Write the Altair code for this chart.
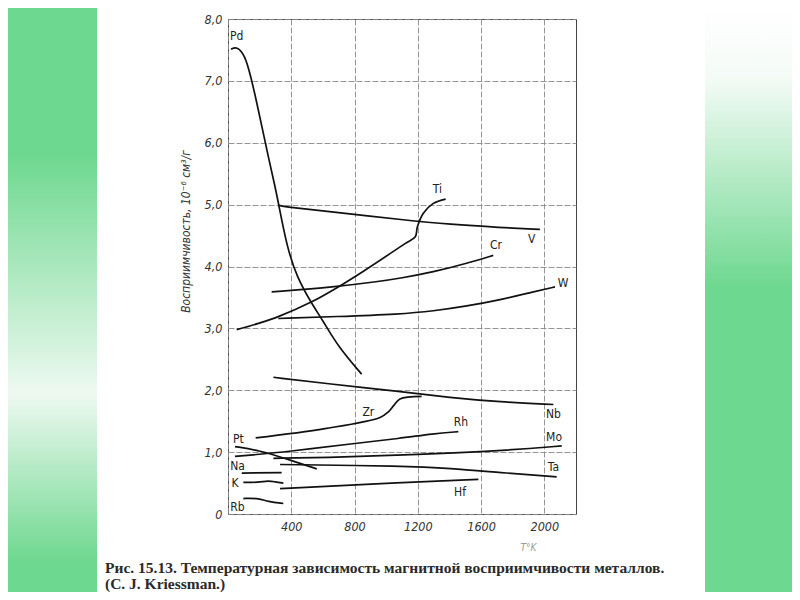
import altair as alt
import pandas as pd

# ---- data: T (K) and susceptibility (10^-6 cm^3/g) ----
pd_T = [19, 55, 107, 145, 181, 217, 255, 297, 322, 371, 434, 529, 599, 697, 845]
pd_chi = [7.51, 7.56, 7.42, 7.06, 6.66, 6.23, 5.77, 5.30, 4.98, 4.34, 3.83, 3.40, 3.13, 2.70, 2.26]
v_T = [322, 371, 676, 1119, 1403, 1720, 1972]
v_chi = [4.99, 4.96, 4.88, 4.75, 4.68, 4.63, 4.60]
ti_T = [55, 192, 318, 529, 697, 866, 1119, 1184, 1197, 1235, 1298, 1376]
ti_chi = [2.98, 3.08, 3.19, 3.43, 3.67, 3.94, 4.37, 4.48, 4.64, 4.86, 5.02, 5.09]
cr_T = [276, 676, 961, 1087, 1298, 1509, 1677]
cr_chi = [3.59, 3.67, 3.76, 3.81, 3.91, 4.05, 4.18]
w_T = [318, 687, 1087, 1298, 1509, 1720, 1930, 2067]
w_chi = [3.16, 3.19, 3.23, 3.28, 3.36, 3.46, 3.59, 3.67]
nb_T = [287, 613, 1087, 1403, 1720, 2057]
nb_chi = [2.21, 2.11, 1.98, 1.88, 1.81, 1.77]
zr_T = [175, 613, 961, 1014, 1050, 1087, 1224]
zr_chi = [1.23, 1.38, 1.56, 1.65, 1.76, 1.86, 1.90]
rh_T = [44, 392, 792, 1087, 1298, 1456]
rh_chi = [0.93, 1.01, 1.14, 1.22, 1.30, 1.33]
mo_T = [287, 613, 1087, 1720, 2110]
mo_chi = [0.90, 0.91, 0.95, 1.02, 1.10]
pt_T = [44, 192, 360, 561]
pt_chi = [1.09, 1.03, 0.90, 0.73]
ta_T = [329, 1119, 1403, 1720, 2078]
ta_chi = [0.80, 0.775, 0.74, 0.67, 0.60]
hf_T = [329, 1119, 1583]
hf_chi = [0.41, 0.51, 0.56]
na_T = [87, 339]
na_chi = [0.66, 0.67]
k_T = [97, 192, 255, 297, 350]
k_chi = [0.51, 0.51, 0.54, 0.52, 0.50]
rb_T = [97, 181, 255, 350]
rb_chi = [0.25, 0.26, 0.20, 0.17]

label_names = ["Pd", "Ti", "V", "Cr", "W", "Nb", "Zr", "Rh", "Pt", "Mo", "Ta", "Na", "K", "Hf", "Rb"]
label_T = [55, 1323, 1920, 1694, 2118, 2057, 887, 1472, 65, 2061, 2057, 60, 44, 1467, 60]
label_chi = [7.72, 5.25, 4.45, 4.35, 3.73, 1.62, 1.65, 1.49, 1.22, 1.25, 0.76, 0.78, 0.50, 0.36, 0.12]

x_ticks = [0, 200, 400, 600, 800, 1000, 1200, 1400, 1600, 1800, 2000, 2200]
y_ticks = [0, 1, 2, 3, 4, 5, 6, 7, 8]

caption_line1 = "Рис. 15.13. Температурная зависимость магнитной восприимчивости металлов."
caption_line2 = "(C. J. Kriessman.)"

# curves with a sharp bend are drawn through their points; the others are smoothed
bent = ["Ti", "Zr"]
series = {
    "Pd": (pd_T, pd_chi), "V": (v_T, v_chi), "Ti": (ti_T, ti_chi), "Cr": (cr_T, cr_chi),
    "W": (w_T, w_chi), "Nb": (nb_T, nb_chi), "Zr": (zr_T, zr_chi), "Rh": (rh_T, rh_chi),
    "Mo": (mo_T, mo_chi), "Pt": (pt_T, pt_chi), "Ta": (ta_T, ta_chi), "Hf": (hf_T, hf_chi),
    "Na": (na_T, na_chi), "K": (k_T, k_chi), "Rb": (rb_T, rb_chi),
}
rows = []
for name, (ts, cs) in series.items():
    for i, (t, c) in enumerate(zip(ts, cs)):
        rows.append({"metal": name, "T": t, "chi": c, "i": i, "bent": name in bent})
df = pd.DataFrame(rows)
labels = pd.DataFrame({"name": label_names, "T": label_T, "chi": label_chi})

GREEN = "#6dd88f"
SANS = "'DejaVu Sans Condensed', 'Liberation Sans Narrow', 'DejaVu Sans', sans-serif"
SERIF = "'Liberation Serif', 'DejaVu Serif', serif"

xs = alt.X("T:Q", scale=alt.Scale(domain=[0, 2200], nice=False, zero=False),
           axis=alt.Axis(values=x_ticks, title="T°K", grid=True, format="d",
                         labelExpr="datum.value % 400 == 0 && datum.value > 0 ? datum.label : ''",
                         titleX=300, titleY=28, titleFontSize=10, titleColor="#999",
                         titleFontWeight="normal", titleFontStyle="italic"))
ys = alt.Y("chi:Q", scale=alt.Scale(domain=[0, 8], nice=False),
           axis=alt.Axis(values=y_ticks, title="Восприимчивость, 10⁻⁶ см³/г", grid=True,
                         labelExpr="datum.value == 0 ? '0' : replace(format(datum.value, '.1f'), '.', ',')",
                         titleX=-36, titleY=212, titleFontSize=12, titleFontWeight="normal",
                         titleFontStyle="italic", titleColor="#333"))

one = alt.Data(values=[{}])

left_strip = alt.Chart(one).mark_rect(
    color=alt.Gradient(gradient="linear", x1=0, x2=0, y1=0, y2=1, stops=[
        alt.GradientStop(color=GREEN, offset=0),
        alt.GradientStop(color=GREEN, offset=0.25),
        alt.GradientStop(color="#eef9f1", offset=0.66),
        alt.GradientStop(color=GREEN, offset=0.95),
        alt.GradientStop(color=GREEN, offset=1),
    ])
).encode(x=alt.value(-220), x2=alt.value(-131), y=alt.value(-11), y2=alt.value(573))

right_strip = alt.Chart(one).mark_rect(
    color=alt.Gradient(gradient="linear", x1=0, x2=0, y1=0, y2=1, stops=[
        alt.GradientStop(color="#ffffff", offset=0),
        alt.GradientStop(color="#f4fbf6", offset=0.12),
        alt.GradientStop(color=GREEN, offset=0.48),
        alt.GradientStop(color=GREEN, offset=1),
    ])
).encode(x=alt.value(477), x2=alt.value(564), y=alt.value(-11), y2=alt.value(573))

smooth_lines = alt.Chart(df).transform_filter("!datum.bent").mark_line(
    color="#111", strokeWidth=1.7, interpolate="basis").encode(
    x=xs, y=ys, detail="metal:N", order="i:Q")
bent_lines = alt.Chart(df).transform_filter("datum.bent").mark_line(
    color="#111", strokeWidth=1.7, interpolate="catmull-rom").encode(
    x=xs, y=ys, detail="metal:N", order="i:Q")

texts = alt.Chart(labels).mark_text(font=SANS, fontSize=12, color="#222").encode(
    x=alt.X("T:Q"), y=alt.Y("chi:Q"), text="name:N")

cap1 = alt.Chart(one).mark_text(font=SERIF, fontSize=15.5, fontWeight="bold", color="#2a2a2a",
                                align="left", baseline="middle").encode(
    x=alt.value(-123), y=alt.value(549), text=alt.value(caption_line1))
cap2 = alt.Chart(one).mark_text(font=SERIF, fontSize=15.5, fontWeight="bold", color="#2a2a2a",
                                align="left", baseline="middle").encode(
    x=alt.value(-123), y=alt.value(565), text=alt.value(caption_line2))

chart = alt.layer(left_strip, right_strip, smooth_lines, bent_lines, texts, cap1, cap2).properties(
    width=348, height=495,
    autosize=alt.AutoSizeParams(type="none"),
    padding={"left": 220, "top": 11, "right": 216, "bottom": 78},
).configure_view(stroke="#444", strokeWidth=1).configure_axis(
    domain=False, ticks=False, gridColor="#8a8a8a", gridDash=[6, 2], gridWidth=0.9,
    labelFont=SANS, labelFontStyle="italic", labelFontSize=12.5, labelColor="#333",
    titleFont=SANS,
).configure_axisY(labelPadding=6).configure_axisX(labelPadding=6)

chart.save("out.html", embed_options={"renderer": "svg", "actions": False})
